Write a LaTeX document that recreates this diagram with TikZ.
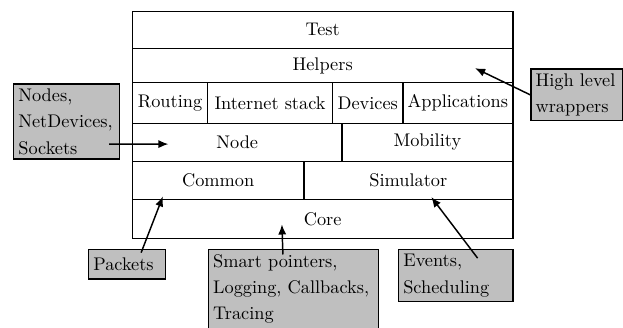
\documentclass[tikz,border=0pt]{standalone}
\usetikzlibrary{arrows.meta}

\begin{document}
\begin{tikzpicture}[
    cell/.style={draw, thick, anchor=south west, inner sep=0pt},
    note/.style={draw, thick, fill=black!25, anchor=north west, align=left,
      inner sep=2.5pt, font=\linespread{1.2}\selectfont},
    pointer/.style={thick, -{Latex[length=5.5pt,width=4.5pt]}}]
        \useasboundingbox (0,0) rectangle (11.96,6.28);
        \clip (0,0) rectangle (11.96,6.28);
        %% layers, top to bottom
        \node[cell, minimum width=7.30cm, minimum height=0.71cm] (test) at (2.53,5.34) {Test};
        \node[cell, minimum width=7.30cm, minimum height=0.66cm] (helpers) at (2.53,4.68) {Helpers};
        \node[cell, minimum width=1.44cm, minimum height=0.78cm] (routing) at (2.53,3.90) {Routing};
        \node[cell, minimum width=2.40cm, minimum height=0.78cm] (inetstack) at (3.97,3.90) {Internet stack};
        \node[cell, minimum width=1.35cm, minimum height=0.78cm] (devices) at (6.37,3.90) {Devices};
        \node[cell, minimum width=2.11cm, minimum height=0.78cm] (apps) at (7.72,3.90) {Applications};
        \node[cell, minimum width=4.02cm, minimum height=0.73cm] (nodes) at (2.53,3.17) {Node};
        \node[cell, minimum width=3.28cm, minimum height=0.73cm] (mobility) at (6.55,3.17) {Mobility};
        \node[cell, minimum width=3.29cm, minimum height=0.73cm] (common) at (2.53,2.44) {Common};
        \node[cell, minimum width=4.01cm, minimum height=0.73cm] (simulator) at (5.82,2.44) {Simulator};
        \node[cell, minimum width=7.30cm, minimum height=0.75cm] (core) at (2.53,1.69) {Core};
        %% notes
        \node[note, text width=1.85cm] (nodesnote) at (0.25,4.68) {Nodes,\\NetDevices,\\Sockets};
        \node[note, text width=1.58cm] (wrapnote) at (10.18,4.97) {High level\\wrappers};
        \node[note, text width=1.30cm, minimum height=0.56cm] (packnote) at (1.69,1.50) {Packets};
        \node[note, text width=3.09cm] (smartnote) at (3.99,1.50) {Smart pointers,\\Logging, Callbacks,\\Tracing};
        \node[note, text width=2.02cm] (eventnote) at (7.64,1.50) {Events,\\Scheduling};
        %% pointers from notes into the layers
        \draw[pointer] ([xshift=-6pt,yshift=8.6pt]nodesnote.south east) -- ([xshift=20pt,yshift=-1pt]nodes.west);
        \draw[pointer] (wrapnote.west) -- ([xshift=-21pt,yshift=-1.5pt]helpers.east);
        \draw[pointer] ([xshift=29pt,yshift=-2pt]packnote.north west) -- ([xshift=17pt,yshift=2pt]common.south west);
        \draw[pointer] ([xshift=41pt,yshift=-3pt]smartnote.north west) -- ([xshift=82pt,yshift=8pt]core.south west);
        \draw[pointer] ([xshift=43.5pt,yshift=-5pt]eventnote.north west) -- ([xshift=70pt,yshift=1.6pt]simulator.south west);
    \end{tikzpicture}
\end{document}
